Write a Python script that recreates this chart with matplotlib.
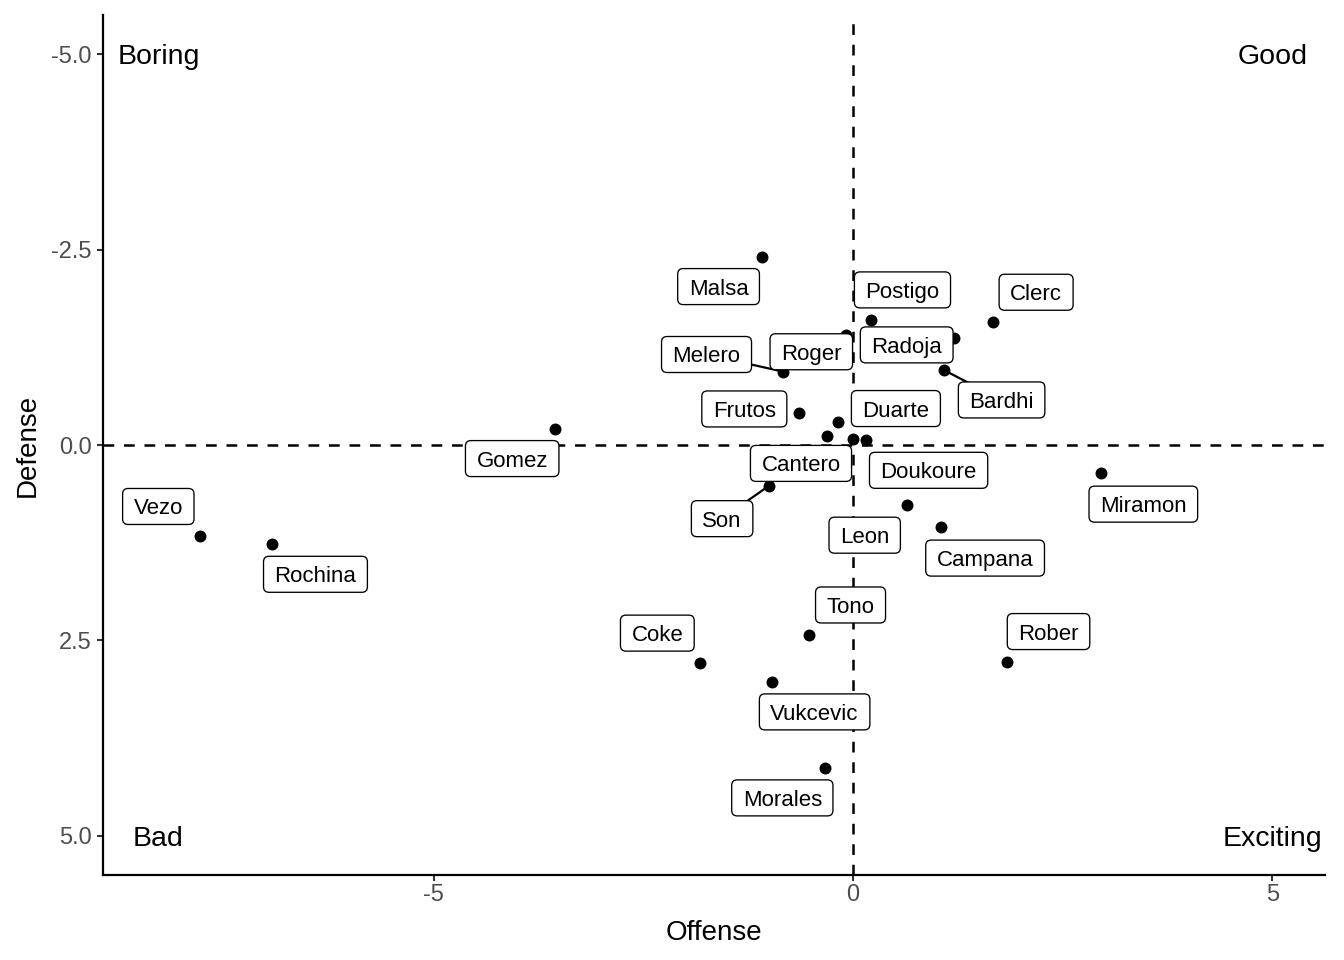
import matplotlib
matplotlib.use("Agg")
import matplotlib.pyplot as plt
from matplotlib.patches import FancyBboxPatch
from matplotlib.lines import Line2D
from matplotlib.transforms import IdentityTransform, offset_copy

# ---------------- data ----------------
players = ["Malsa", "Postigo", "Clerc", "Radoja", "Roger", "Melero", "Bardhi",
           "Frutos", "Duarte", "Cantero", "", "Doukoure", "Gomez", "Miramon",
           "Son", "Leon", "Campana", "Vezo", "Rochina", "Tono", "Coke", "Rober",
           "Vukcevic", "Morales"]
offense = [-1.09, 0.22, 1.67, 1.20, -0.08, -0.84, 1.08,
           -0.64, -0.18, -0.31, 0.00, 0.15, -3.55, 2.96,
           -1.00, 0.64, 1.05, -7.78, -6.92, -0.53, -1.82, 1.83,
           -0.97, -0.33]
defense = [-2.41, -1.60, -1.57, -1.37, -1.41, -0.94, -0.96,
           -0.41, -0.30, -0.11, -0.08, -0.06, -0.21, 0.36,
           0.52, 0.77, 1.05, 1.17, 1.27, 2.43, 2.79, 2.77,
           3.03, 4.13]

quadrant_names = ["Boring", "Good", "Bad", "Exciting"]
quadrant_x = [-8.28, 5.0, -8.28, 5.0]
quadrant_y = [-5.0, -5.0, 5.0, 5.0]

x_ticks = [-5, 0, 5]
x_tick_labels = ["-5", "0", "5"]
y_ticks = [-5.0, -2.5, 0.0, 2.5, 5.0]
y_tick_labels = ["-5.0", "-2.5", "0.0", "2.5", "5.0"]

# label placement (pixel offsets of label box centre from its point; +dy = down)
label_dx = [-43, 31, 43, -47, -35, -76, 58,
            -55, 58, -26, 0, 63, -43, 42,
            -47, -42, 44, -42, 43, 42, -43, 42,
            43, -43]
label_dy = [30, -30, -30, 7, 17, -17, 30,
            -4, -13, 27, 0, 30, 30, 31,
            33, 30, 31, -30, 30, -30, -30, -30,
            30, 30]
label_segment = [False, False, False, False, False, True, True,
                 False, False, False, False, False, False, False,
                 True, False, False, False, False, False, False, False,
                 False, False]

# ---------------- figure ----------------
plt.rcParams["font.family"] = ["Liberation Sans", "DejaVu Sans"]

W, H = 1344, 960
fig = plt.figure(figsize=(W / 100, H / 100), dpi=100, facecolor="white")
ax = fig.add_axes([103 / W, 85 / H, (1325 - 103) / W, (945 - 85) / H])
ax.set_facecolor("white")
ax.set_xlim(-8.94, 5.626)
ax.set_ylim(5.5, -5.5)

for s in ["top", "right"]:
    ax.spines[s].set_visible(False)
for s in ["left", "bottom"]:
    ax.spines[s].set_linewidth(1.6)
    ax.spines[s].set_color("black")

ax.set_xticks(x_ticks)
ax.set_xticklabels(x_tick_labels)
ax.set_yticks(y_ticks)
ax.set_yticklabels(y_tick_labels)
ax.tick_params(axis="both", length=4.3, width=1.5, color="#333333",
               labelsize=17, labelcolor="#4D4D4D")
ax.tick_params(axis="x", pad=2.5)
ax.tick_params(axis="y", pad=4.0)

ax.set_xlabel("Offense", fontsize=20, color="black")
ax.xaxis.label.set_va("baseline")
ax.xaxis.set_label_coords(0.5, (20 - 85) / 860)
ax.set_ylabel("Defense", fontsize=20, color="black")
ax.yaxis.label.set_va("baseline")
ax.yaxis.set_label_coords((35 - 103) / 1222, 0.5)

dash = (0, (4.3, 3.9))
ax.axvline(0, color="black", lw=1.8, ls=dash, zorder=1)
ax.axhline(0, color="black", lw=1.8, ls=dash, zorder=1)

ax.scatter(offense, defense, s=74, color="black", linewidths=0, zorder=3)

# quadrant annotations
q_size = 20.5
q_cap = 0.716 * q_size * 100 / 72
q_tr = offset_copy(ax.transData, fig=fig, x=0, y=-q_cap / 2, units="dots")
for name, qx, qy in zip(quadrant_names, quadrant_x, quadrant_y):
    ax.text(qx, qy, name, transform=q_tr, ha="center", va="baseline",
            fontsize=q_size, color="black", zorder=2)

# repelled-style labels
renderer = fig.canvas.get_renderer()
ident = IdentityTransform()
lab_size = 16
cap = 0.716 * lab_size * 100 / 72
pad_x = 11
box_h = 36
for i, name in enumerate(players):
    if not name:
        continue
    px, py = ax.transData.transform((offense[i], defense[i]))
    cx, cy = px + label_dx[i], py - label_dy[i]
    t = ax.text(cx, cy - cap / 2, name, transform=ident, ha="center",
                va="baseline", fontsize=lab_size, color="black", zorder=6)
    w = t.get_window_extent(renderer).width
    box = FancyBboxPatch((cx - w / 2 - pad_x, cy - box_h / 2), w + 2 * pad_x, box_h,
                         boxstyle="round,pad=0,rounding_size=5.5", transform=ident,
                         facecolor="white", edgecolor="black", linewidth=0.95,
                         zorder=5)
    ax.add_artist(box)
    if label_segment[i]:
        seg = Line2D([px, cx], [py, cy], transform=ident, color="black",
                     lw=1.6, zorder=4)
        ax.add_artist(seg)

fig.savefig("out.png", dpi=100, facecolor="white")
